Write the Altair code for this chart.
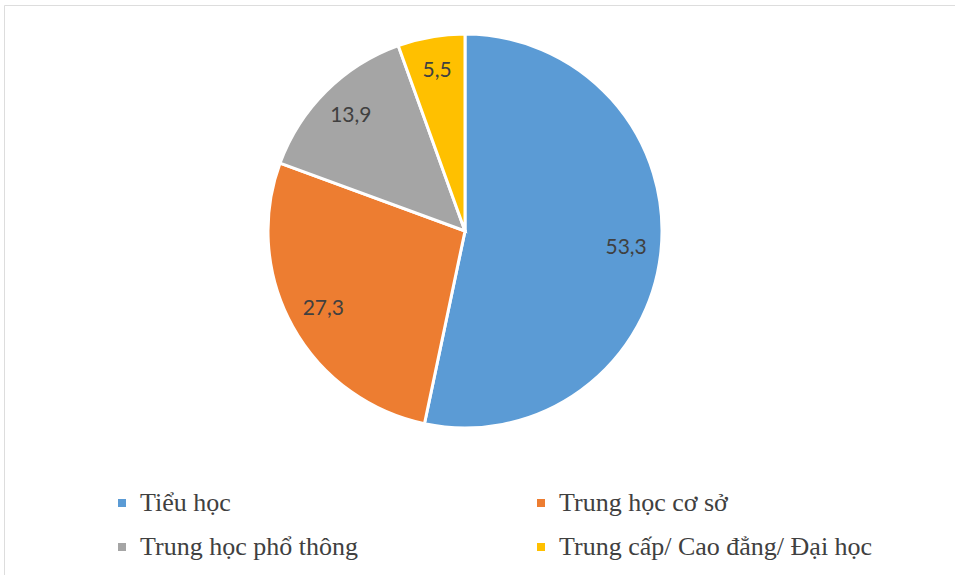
import altair as alt
import pandas as pd

categories = ["Tiểu học", "Trung học cơ sở", "Trung học phổ thông", "Trung cấp/ Cao đẳng/ Đại học"]
values = [53.3, 27.3, 13.9, 5.5]
labels = ["53,3", "27,3", "13,9", "5,5"]
colors = ["#5B9BD5", "#ED7D31", "#A5A5A5", "#FFC000"]

df = pd.DataFrame({"cat": categories, "val": values, "lab": labels, "ord": list(range(len(categories)))})

cx, cy, R = 461, 226, 197

base = alt.Chart(df).encode(
    theta=alt.Theta("val:Q", stack=True),
    order=alt.Order("ord:Q"),
)

pie = base.mark_arc(outerRadius=R, stroke="white", strokeWidth=3).encode(
    x=alt.value(cx), y=alt.value(cy),
    color=alt.Color(
        "cat:N",
        sort=categories,
        scale=alt.Scale(domain=categories, range=colors),
        legend=alt.Legend(
            title=None, orient="none", legendX=105, legendY=485, columns=2,
            direction="horizontal",
            symbolType="square", symbolSize=64, symbolStrokeWidth=0,
            labelFont="'Liberation Serif', 'Times New Roman', 'DejaVu Serif', serif",
            labelFontSize=26, labelColor="#404040",
            labelOffset=5, rowPadding=18, columnPadding=170, labelLimit=500,
        ),
    ),
)

text = base.mark_text(radius=162, font="Lato", fontSize=21, color="#404040").encode(
    x=alt.value(cx), y=alt.value(cy),
    text="lab:N",
)

chart = alt.layer(pie, text).properties(
    width=951, height=575,
    autosize=alt.AutoSizeParams(type="none"),
    padding={"left": 4, "top": 5, "right": 0, "bottom": 0},
).configure_view(stroke="#D9D9D9", strokeWidth=1.5).configure(background="white")

chart.save("out.html", embed_options={"renderer": "svg", "actions": False})
